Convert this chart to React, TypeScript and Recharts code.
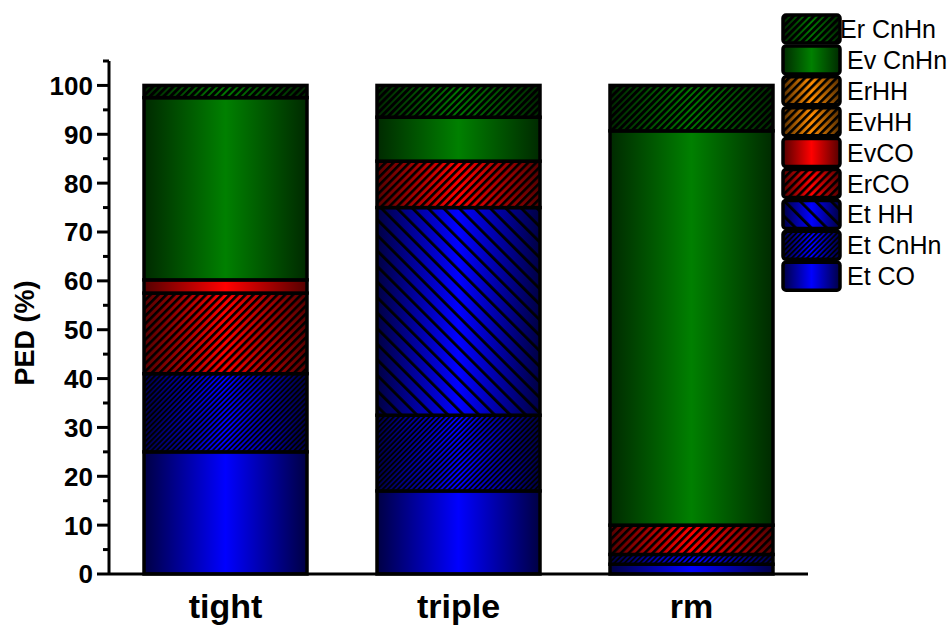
import { BarChart, Bar, XAxis, YAxis, Legend } from 'recharts';

const categories = ['tight', 'triple', 'rm'];

// stacked segments, bottom to top (PED %)
const etCO = [25, 17, 2];
const etCnHn = [16, 15.5, 2];
const etHH = [0, 42.5, 0];
const erCO = [16.5, 9.5, 6];
const evCO = [2.7, 0, 0];
const evHH = [0, 0, 0];
const erHH = [0, 0, 0];
const evCnHn = [37.3, 9, 80.7];
const erCnHn = [2.5, 6.5, 9.3];

const yTicks = [0, 5, 10, 15, 20, 25, 30, 35, 40, 45, 50, 55, 60, 65, 70, 75, 80, 85, 90, 95, 100, 105];

const FONT = '"Liberation Sans", Arial, sans-serif';

type Series = { key: string; name: string; values: number[]; color: string; hatch?: string };

const series: Series[] = [
  { key: 'etCO', name: 'Et CO', values: etCO, color: 'blue' },
  { key: 'etCnHn', name: 'Et CnHn', values: etCnHn, color: 'blue', hatch: 'fine' },
  { key: 'etHH', name: 'Et HH', values: etHH, color: 'blue', hatch: 'wide' },
  { key: 'erCO', name: 'ErCO', values: erCO, color: 'red', hatch: 'mid' },
  { key: 'evCO', name: 'EvCO', values: evCO, color: 'red' },
  { key: 'evHH', name: 'EvHH', values: evHH, color: 'orange', hatch: 'mid' },
  { key: 'erHH', name: 'ErHH', values: erHH, color: 'orange', hatch: 'mid' },
  { key: 'evCnHn', name: 'Ev CnHn', values: evCnHn, color: 'green' },
  { key: 'erCnHn', name: 'Er CnHn', values: erCnHn, color: 'green', hatch: 'dense' },
];

const colorStops: Record<string, [string, string]> = {
  blue: ['#000044', '#0000ff'],
  red: ['#550000', '#ff0000'],
  orange: ['#5a3000', '#ff8c00'],
  green: ['#002a00', '#008000'],
};

const data = categories.map((name, i) => {
  const row: Record<string, any> = { name };
  series.forEach((s) => (row[s.key] = s.values[i]));
  return row;
});

const Defs = () => (
  <svg width={0} height={0} style={{ position: 'absolute' }}>
    <defs>
      {Object.entries(colorStops).map(([c, [dark, bright]]) => (
        <linearGradient key={c} id={`grad-${c}`} x1="0" y1="0" x2="1" y2="0">
          <stop offset="0%" stopColor={dark} />
          <stop offset="50%" stopColor={bright} />
          <stop offset="100%" stopColor={dark} />
        </linearGradient>
      ))}
      <pattern id="hatch-fine" patternUnits="userSpaceOnUse" width={3.6} height={3.6} patternTransform="rotate(45)">
        <rect width={1.8} height={3.6} fill="#000" />
      </pattern>
      <pattern id="hatch-mid" patternUnits="userSpaceOnUse" width={5.6} height={5.6} patternTransform="rotate(45)">
        <rect width={2.6} height={5.6} fill="#000" />
      </pattern>
      <pattern id="hatch-dense" patternUnits="userSpaceOnUse" width={4.8} height={4.8} patternTransform="rotate(45)">
        <rect width={3} height={4.8} fill="#000" />
      </pattern>
      <pattern id="hatch-wide" patternUnits="userSpaceOnUse" width={11} height={11} patternTransform="rotate(-45)">
        <rect width={2.8} height={11} fill="#000" />
      </pattern>
    </defs>
  </svg>
);

const makeShape = (s: Series) => (props: any) => {
  const { x, y, width, height } = props;
  if (!height || height <= 0) return <g />;
  return (
    <g>
      <rect x={x} y={y} width={width} height={height} fill={`url(#grad-${s.color})`} />
      {s.hatch && <rect x={x} y={y} width={width} height={height} fill={`url(#hatch-${s.hatch})`} />}
      <rect x={x} y={y} width={width} height={height} fill="none" stroke="#000" strokeWidth={3.5} />
    </g>
  );
};

const YTick = (props: any) => {
  const { x, y, payload } = props;
  const v = payload.value;
  const major = v % 10 === 0;
  return (
    <g>
      <line x1={x} x2={x - (major ? 12 : 6)} y1={y} y2={y} stroke="#000" strokeWidth={3} />
      {major && v <= 100 && (
        <text x={x - 16} y={y} dy="0.36em" textAnchor="end" fontFamily={FONT} fontWeight="bold" fontSize={26} fill="#000">
          {v}
        </text>
      )}
    </g>
  );
};

const XTick = (props: any) => {
  const { x, payload } = props;
  return (
    <text x={x} y={618} textAnchor="middle" fontFamily={FONT} fontWeight="bold" fontSize={34} fill="#000">
      {payload.value}
    </text>
  );
};

const YLabel = () => (
  <text x={34} y={333} transform="rotate(-90 34 333)" textAnchor="middle" fontFamily={FONT} fontWeight="bold" fontSize={27} fill="#000">
    PED (%)
  </text>
);

const LegendBox = () => {
  const items = [...series].reverse();
  return (
    <svg width={170} height={290}>
      {items.map((s, i) => {
        const y0 = 2 + i * 30.9;
        return (
          <g key={s.key}>
            <rect x={2} y={y0} width={57} height={28} rx={3} fill={`url(#grad-${s.color})`} />
            {s.hatch && <rect x={2} y={y0} width={57} height={28} rx={3} fill={`url(#hatch-${s.hatch})`} />}
            <rect x={2} y={y0} width={57} height={28} rx={3} fill="none" stroke="#000" strokeWidth={3.5} />
            <text x={i === 0 ? 59 : 66} y={y0 + 23} fontFamily={FONT} fontSize={25} fill="#000">
              {s.name}
            </text>
          </g>
        );
      })}
    </svg>
  );
};

export default function App() {
  return (
    <div style={{ position: 'absolute', left: 0, top: 0, width: 951, height: 631, background: '#fff' }}>
      <Defs />
      <BarChart width={951} height={631} data={data} margin={{ top: 61, right: 143, bottom: 0, left: 0 }} barSize={163}>
        <XAxis
          dataKey="name"
          height={57}
          axisLine={{ stroke: '#000', strokeWidth: 3 }}
          tickLine={false}
          tickSize={0}
          tick={<XTick />}
          interval={0}
        />
        <YAxis
          width={109}
          domain={[0, 105]}
          ticks={yTicks}
          interval={0}
          axisLine={{ stroke: '#000', strokeWidth: 3 }}
          tickLine={false}
          tickSize={0}
          tickMargin={0}
          tick={<YTick />}
          label={<YLabel />}
        />
        <Legend
          layout="horizontal"
          verticalAlign="middle"
          align="center"
          wrapperStyle={{ position: 'absolute', left: 781, top: 13, width: 170, height: 290 }}
          content={<LegendBox />}
        />
        {series.map((s) => (
          <Bar
            key={s.key}
            dataKey={s.key}
            name={s.name}
            stackId="a"
            fill={colorStops[s.color][1]}
            shape={makeShape(s)}
            isAnimationActive={false}
          />
        ))}
      </BarChart>
    </div>
  );
}
